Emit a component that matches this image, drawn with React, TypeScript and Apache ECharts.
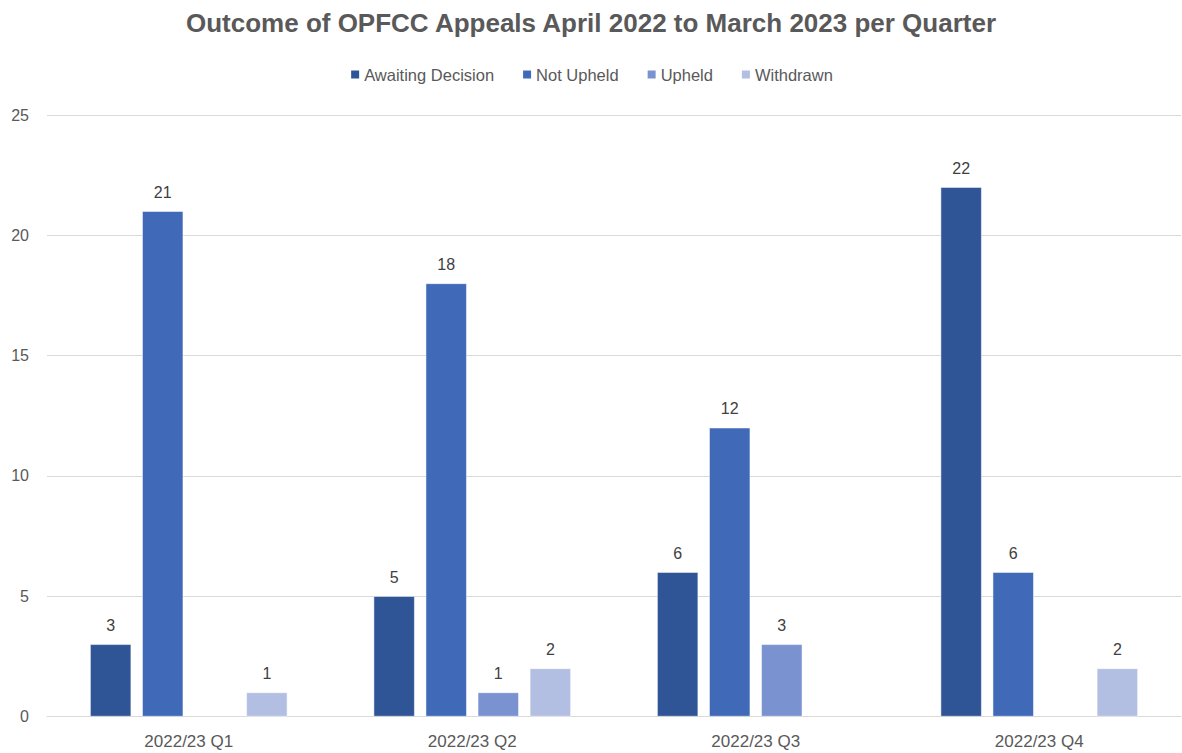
import React, { useEffect, useRef } from "react";
import * as echarts from "echarts";

const categories = ["2022/23 Q1", "2022/23 Q2", "2022/23 Q3", "2022/23 Q4"];
const awaitingDecision = [3, 5, 6, 22];
const notUpheld = [21, 18, 12, 6];
const upheld = [null, 1, 3, null];
const withdrawn = [1, 2, null, 2];
const yTicks = { min: 0, max: 25, interval: 5 };

const seriesDefs = [
  { name: "Awaiting Decision", data: awaitingDecision, color: "#2F5597" },
  { name: "Not Upheld", data: notUpheld, color: "#4069B8" },
  { name: "Upheld", data: upheld, color: "#7A93D0" },
  { name: "Withdrawn", data: withdrawn, color: "#B3BFE2" },
];

export default function App() {
  const ref = useRef<HTMLDivElement>(null);
  useEffect(() => {
    document.body.style.margin = "0";
    if (!ref.current) return;
    const chart = echarts.init(ref.current, null, { renderer: "svg" });
    const font = "Liberation Sans";
    chart.setOption({
      animation: false,
      backgroundColor: "#ffffff",
      title: {
        text: "Outcome of OPFCC Appeals April 2022 to March 2023 per Quarter",
        left: "center",
        top: 5,
        textStyle: { color: "#595959", fontSize: 26, fontWeight: "bold", fontFamily: font },
      },
      legend: {
        top: 61,
        left: "center",
        itemWidth: 10,
        itemHeight: 10,
        itemGap: 27,
        icon: "rect",
        textStyle: { color: "#595959", fontSize: 16.5, fontFamily: font, padding: [0, 0, 0, -1] },
        data: seriesDefs.map((s) => s.name),
      },
      grid: { left: 47, right: 1, top: 115, bottom: 36.5, containLabel: false },
      xAxis: {
        type: "category",
        data: categories,
        axisTick: { show: false },
        axisLine: { lineStyle: { color: "#D9D9D9" } },
        axisLabel: { color: "#595959", fontSize: 17, fontFamily: font, margin: 16 },
      },
      yAxis: {
        type: "value",
        min: yTicks.min,
        max: yTicks.max,
        interval: yTicks.interval,
        axisLine: { show: false },
        axisTick: { show: false },
        splitLine: { lineStyle: { color: "#D9D9D9" } },
        axisLabel: { color: "#595959", fontSize: 16, fontFamily: font, margin: 18 },
      },
      series: seriesDefs.map((s) => ({
        name: s.name,
        type: "bar",
        data: s.data,
        barWidth: 41,
        barGap: "27%",
        itemStyle: { color: s.color, borderColor: "#ffffff", borderWidth: 0.5 },
        label: {
          show: true,
          position: "top",
          distance: 11,
          color: "#404040",
          fontSize: 16,
          fontFamily: font,
        },
      })),
    });
    return () => chart.dispose();
  }, []);
  return <div ref={ref} style={{ width: 1182, height: 753 }} />;
}
